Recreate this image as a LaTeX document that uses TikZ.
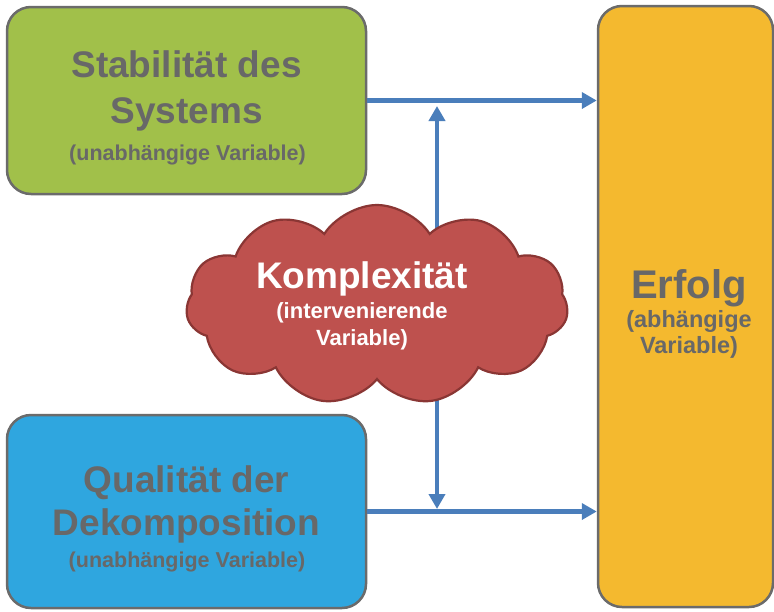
\documentclass[tikz,border=0pt]{standalone}
\usepackage{fontspec}
\setmainfont{Liberation Sans}
\usetikzlibrary{shapes.symbols,arrows.meta}
\definecolor{boxgreen}{HTML}{A1C04A}
\definecolor{boxblue}{HTML}{2FA6DF}
\definecolor{boxorange}{HTML}{F4B92F}
\definecolor{cloudred}{HTML}{BE514E}
\definecolor{cloudedge}{HTML}{8A3634}
\definecolor{edgegray}{HTML}{6B6B6B}
\definecolor{txtgray}{HTML}{686868}
\definecolor{arrowblue}{HTML}{4A7EBB}
\tikzset{
  varbox/.style={draw=edgegray, line width=2.5pt, rounded corners=24pt, inner sep=0pt},
  bigtxt/.style={anchor=base, text=txtgray, font=\bfseries\fontsize{37}{44}\selectfont, inner sep=0pt},
  smalltxt/.style={anchor=base, text=txtgray, font=\bfseries\fontsize{21.5}{26}\selectfont, inner sep=0pt},
  cloudbig/.style={anchor=base, text=white, font=\bfseries\fontsize{37}{44}\selectfont, inner sep=0pt},
  cloudsmall/.style={anchor=base, text=white, font=\bfseries\fontsize{22}{26}\selectfont, inner sep=0pt},
  flow/.style={draw=arrowblue, line width=4.5pt, -{Triangle[length=15pt,width=16pt]}},
}
\begin{document}
\begin{tikzpicture}[x=1pt,y=-1pt]
\useasboundingbox (0,0) rectangle (774,611);
% boxes
\node[varbox, fill=boxgreen, minimum width=359pt, minimum height=187pt] (green) at (186.5,100.5) {};
\node[varbox, fill=boxblue, minimum width=359pt, minimum height=193pt] (blue) at (186.5,511.5) {};
\node[varbox, fill=boxorange, minimum width=175pt, minimum height=601pt] (erfolg) at (685.5,306.5) {};
% texts
\node[bigtxt] (g1) at (186.5,77) {Stabilität des};
\node[bigtxt] (g2) at (186.5,123) {Systems};
\node[smalltxt] (g3) at (187.5,160) {(unabhängige Variable)};
\node[bigtxt] (b1) at (186.5,492) {Qualität der};
\node[bigtxt] (b2) at (186.5,535) {Dekomposition};
\node[smalltxt] (b3) at (187,567) {(unabhängige Variable)};
\node[bigtxt, font=\bfseries\fontsize{40}{46}\selectfont] (e1) at (689,298) {Erfolg};
\node[smalltxt, font=\bfseries\fontsize{23.5}{28}\selectfont] (e2) at (689,327) {(abhängige};
\node[smalltxt, font=\bfseries\fontsize{23.5}{28}\selectfont] (e3) at (689,353) {Variable)};
% horizontal arrows
\draw[flow] (green.east) -- (green.east -| erfolg.west);
\draw[flow] (blue.east) -- (blue.east -| erfolg.west);
% vertical arrows (behind cloud)
\coordinate (kc) at (437,305);
\coordinate (ktop) at (437,106);
\coordinate (kbot) at (437,509);
\draw[flow] (kc) -- (ktop);
\draw[flow] (kc) -- (kbot);
% cloud
\node[cloud, cloud puffs=11, cloud puff arc=115, aspect=1.9, draw=cloudedge, line width=2.2pt, fill=cloudred, minimum width=382pt, minimum height=200pt, inner sep=0pt] (cloud) at (377,305) {};
\node[cloudbig] (k1) at (362,288) {Komplexität};
\node[cloudsmall] (k2) at (362,318) {(intervenierende};
\node[cloudsmall] (k3) at (362,345) {Variable)};
\end{tikzpicture}
\end{document}
